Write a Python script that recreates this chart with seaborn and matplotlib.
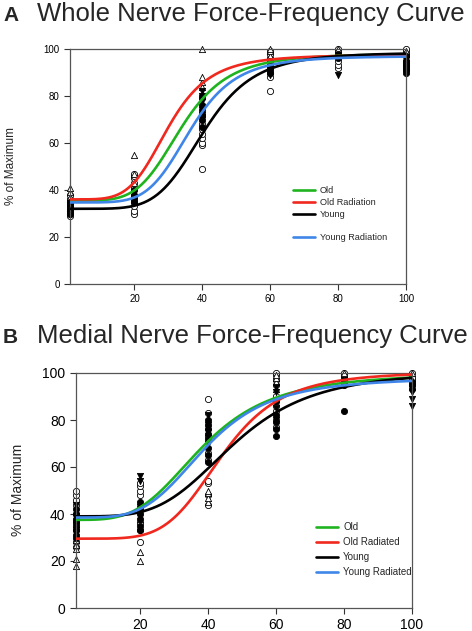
import numpy as np
import pandas as pd
import matplotlib
matplotlib.use('Agg')
import matplotlib.pyplot as plt
import seaborn as sns
from matplotlib.lines import Line2D

sns.set_style('ticks')
plt.rcParams['font.family'] = ['Liberation Sans', 'DejaVu Sans']

# stimulation frequencies (Hz)
freq = [1, 20, 40, 60, 80, 100]

groups_a = ['Old', 'Old Radiation', 'Young', 'Young Radiation']
groups_b = ['Old', 'Old Radiated', 'Young', 'Young Radiated']
colors = ['#1fb41f', '#f0281e', '#000000', '#3f86e8']
markers = ['o', '^', 'o', 'v']
filled = [False, False, True, True]

# fitted curve parameters per group: bottom, top, ec50, hill slope
fit_a_bottom = [35.5, 36.0, 32.0, 34.7]
fit_a_top = [98.0, 97.5, 98.5, 97.0]
fit_a_ec50 = [33.9, 30.0, 40.6, 36.6]
fit_a_slope = [4.9, 4.9, 5.5, 5.5]

fit_b_bottom = [37.5, 29.5, 39.0, 38.5]
fit_b_top = [100.0, 100.5, 101.0, 98.0]
fit_b_ec50 = [38.4, 44.1, 47.7, 39.2]
fit_b_slope = [3.6, 5.0, 4.0, 4.0]

# individual points, panel A (one list per frequency)
a_old = [[29, 30, 31, 33, 35, 36, 38], [30, 31, 33, 35, 41, 43, 45, 46, 47],
         [49, 59, 60, 62, 64, 66, 68, 72], [82, 88, 90, 92, 94, 96, 98, 99],
         [92, 93, 95, 97, 99, 100], [93, 95, 97, 98, 99, 100]]
a_oldrad = [[37, 39, 41], [43, 47, 55], [84, 86, 88, 100], [97, 99, 100], [99, 100], [98, 99]]
a_young = [[30, 31, 32, 33, 34, 35], [35, 36, 37, 38, 40], [67, 70, 72, 74, 76, 79, 80],
           [90, 91, 93, 95], [96, 98], [90, 91, 92, 93, 94, 95, 97]]
a_yrad = [[30, 31, 32, 34], [37, 39], [70, 72, 74, 78, 80, 82], [89, 91, 94], [89], [90, 91, 92, 96]]

# individual points, panel B
b_old = [[26, 28, 33, 37, 40, 44, 46, 48, 50], [28, 33, 36, 48, 50, 52, 53],
         [44, 48, 53, 54, 63, 66, 73, 83, 89], [77, 80, 84, 86, 88, 90, 95, 97, 99, 100],
         [96, 98, 99, 100], [95, 97, 98, 100]]
b_oldrad = [[18, 21, 25, 27, 29], [20, 24, 38, 44], [45, 47, 49, 50], [93, 96, 98, 99], [98, 100], [97, 100]]
b_young = [[30, 31, 33, 35, 36, 38, 40, 42], [33, 35, 38, 40, 42, 43, 45], [62, 65, 68, 72, 74, 76, 78, 80],
           [73, 76, 79, 82, 88], [84, 95, 96], [93, 95, 96]]
b_yrad = [[33, 36, 39, 44], [40, 43, 54, 56], [70, 75, 78, 82], [80, 85, 92, 94], [95, 97], [86, 89, 92]]


def hill(x, bottom, top, ec50, n):
    return bottom + (top - bottom) / (1 + (ec50 / x) ** n)


def long_points(lists, group):
    rows = []
    for f, vals in zip(freq, lists):
        for v in vals:
            rows.append({'Frequency': f, 'Value': v, 'Group': group})
    return rows


fig = plt.figure(figsize=(4.72, 6.31), dpi=100)
ax_a = fig.add_axes([70 / 472, 1 - 284 / 631, 336 / 472, 235 / 631])
ax_b = fig.add_axes([76 / 472, 1 - 608 / 631, 336 / 472, 235 / 631])

xs = np.linspace(1, 100, 400)

panels = [
    (ax_a, groups_a, [a_old, a_oldrad, a_young, a_yrad],
     (fit_a_bottom, fit_a_top, fit_a_ec50, fit_a_slope), 7),
    (ax_b, groups_b, [b_old, b_oldrad, b_young, b_yrad],
     (fit_b_bottom, fit_b_top, fit_b_ec50, fit_b_slope), 10),
]

for ax, groups, pts, fit, tick_fs in panels:
    # scatter points
    for i, g in enumerate(groups):
        df = pd.DataFrame(long_points(pts[i], g))
        sns.scatterplot(data=df, x='Frequency', y='Value', ax=ax,
                        marker=markers[i], s=20,
                        facecolor='black' if filled[i] else 'white',
                        edgecolor='black', linewidth=0.6, zorder=2,
                        legend=False, clip_on=False)
    # fitted curves
    for i, g in enumerate(groups):
        cdf = pd.DataFrame({'Frequency': xs,
                            'Value': hill(xs, fit[0][i], fit[1][i], fit[2][i], fit[3][i])})
        sns.lineplot(data=cdf, x='Frequency', y='Value', ax=ax, color=colors[i],
                     lw=1.9, zorder=3, legend=False)

    ax.set_xlim(1, 100)
    ax.set_ylim(0, 100)
    ax.set_xticks([20, 40, 60, 80, 100])
    ax.set_yticks([0, 20, 40, 60, 80, 100])
    ax.set_xlabel('')
    ax.set_ylabel('')
    ax.tick_params(labelsize=tick_fs, length=4, width=0.8, direction='out', colors='#333333',
                   labelcolor='black')
    for sp in ax.spines.values():
        sp.set_visible(True)
        sp.set_linewidth(0.9)
        sp.set_color('#555555')

# legends
h_a = [Line2D([], [], color=colors[0], lw=1.9), Line2D([], [], color=colors[1], lw=1.9),
       Line2D([], [], color=colors[2], lw=1.9), Line2D([], [], color='none'),
       Line2D([], [], color=colors[3], lw=1.9)]
l_a = [groups_a[0], groups_a[1], groups_a[2], ' ', groups_a[3]]
ax_a.legend(h_a, l_a, loc='upper left', bbox_to_anchor=(0.65, 0.435), frameon=False,
            fontsize=6.6, handlelength=2.4, handletextpad=0.5, labelspacing=0.3, borderpad=0)

h_b = [Line2D([], [], color=c, lw=1.9) for c in colors]
ax_b.legend(h_b, groups_b, loc='upper left', bbox_to_anchor=(0.70, 0.385), frameon=False,
            fontsize=7, handlelength=2.3, handletextpad=0.5, labelspacing=0.5, borderpad=0)

# panel titles and axis labels
fig.text(3 / 472, 1 - 21 / 631, 'A', fontsize=15, fontweight='bold', va='baseline')
fig.text(37 / 472, 1 - 21 / 631, 'Whole Nerve Force-Frequency Curve', fontsize=18.5, va='baseline')
fig.text(3 / 472, 1 - 343 / 631, 'B', fontsize=15, fontweight='bold', va='baseline')
fig.text(37 / 472, 1 - 343 / 631, 'Medial Nerve Force-Frequency Curve', fontsize=18.5, va='baseline')
fig.text(11 / 472, 1 - 166 / 631, '% of Maximum', rotation=90, fontsize=8.5, ha='center', va='center')
fig.text(18 / 472, 1 - 490 / 631, '% of Maximum', rotation=90, fontsize=10, ha='center', va='center')

plt.savefig('out.png', dpi=100)
